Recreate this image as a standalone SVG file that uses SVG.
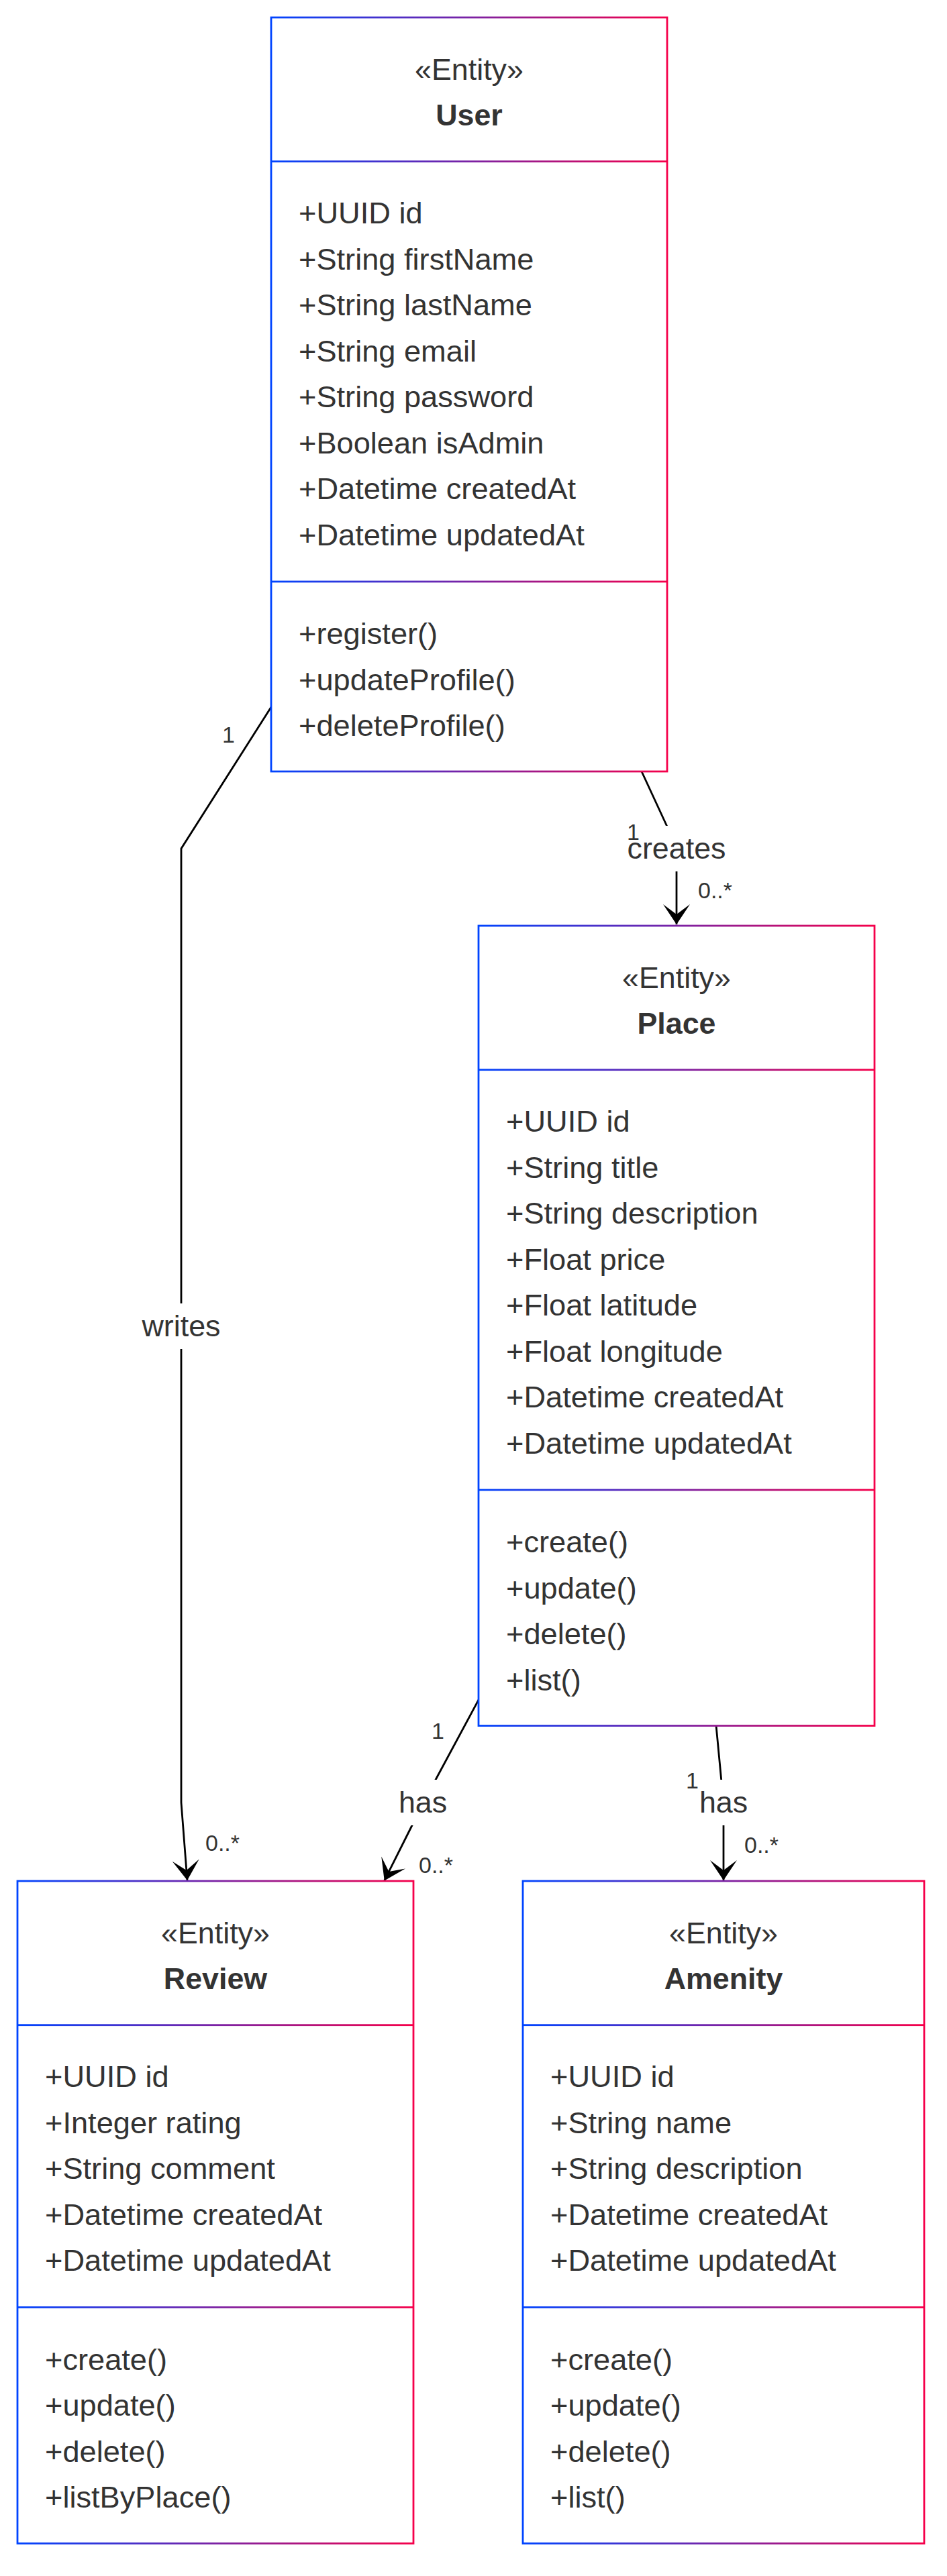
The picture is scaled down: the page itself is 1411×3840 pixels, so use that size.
<svg xmlns="http://www.w3.org/2000/svg" width="1411" height="3840" viewBox="0 0 1411 3840">
<style>
  text { font-family: "Liberation Sans", Arial, sans-serif; fill: #333333; }
  .stereo { font-size: 44.8px; text-anchor: middle; }
  .title { font-size: 44.8px; font-weight: bold; text-anchor: middle; }
  .member { font-size: 45.2px; }
  .elabel { font-size: 44.8px; text-anchor: middle; }
  .card { font-size: 34px; }
  .box { fill: #ffffff; stroke-width: 2.8; }
  .edge { fill: none; stroke: #000000; stroke-width: 2.8; marker-end: url(#arrow); }
  .lbg { fill: #ffffff; stroke: none; }
</style>
<defs>
  <linearGradient id="gUser" gradientUnits="userSpaceOnUse" x1="404" y1="0" x2="994" y2="0"><stop offset="0" stop-color="#0044ff"/><stop offset="1" stop-color="#f5004a"/></linearGradient>
  <linearGradient id="gPlace" gradientUnits="userSpaceOnUse" x1="713" y1="0" x2="1303" y2="0"><stop offset="0" stop-color="#0044ff"/><stop offset="1" stop-color="#f5004a"/></linearGradient>
  <linearGradient id="gReview" gradientUnits="userSpaceOnUse" x1="26" y1="0" x2="616" y2="0"><stop offset="0" stop-color="#0044ff"/><stop offset="1" stop-color="#f5004a"/></linearGradient>
  <linearGradient id="gAmenity" gradientUnits="userSpaceOnUse" x1="779" y1="0" x2="1377" y2="0"><stop offset="0" stop-color="#0044ff"/><stop offset="1" stop-color="#f5004a"/></linearGradient>
  <marker id="arrow" viewBox="-32 -22 34 44" refX="0" refY="0" markerWidth="34" markerHeight="44" markerUnits="userSpaceOnUse" orient="auto">
    <path d="M0,0 L-30,-20 L-15,0 L-30,20 Z" fill="#000000"/>
  </marker>
</defs>
<rect x="0" y="0" width="1411" height="3840" fill="#ffffff"/>

<g id="connectors">
  <g id="edge-writes">
    <path class="edge" d="M404,1054 L270,1265 L270,2687 L279,2803"/>
    <rect class="lbg" x="212" y="1943" width="116" height="68"/>
    <text class="elabel" x="270" y="1992">writes</text>
    <text class="card" x="331" y="1107">1</text>
    <text class="card" x="306" y="2759">0..*</text>
  </g>
  <g id="edge-creates">
    <path class="edge" d="M956,1150 L993,1230 L1008,1262 L1008,1378"/>
    <rect class="lbg" x="936" y="1231" width="145" height="68"/>
    <text class="elabel" x="1008" y="1280">creates</text>
    <text class="card" x="934" y="1252">1</text>
    <text class="card" x="1040" y="1339">0..*</text>
  </g>
  <g id="edge-has-review">
    <path class="edge" d="M713,2534 L648.5,2654 L613,2723 L572.7,2803.4"/>
    <rect class="lbg" x="594" y="2653" width="72" height="68"/>
    <text class="elabel" x="630" y="2702">has</text>
    <text class="card" x="643" y="2592">1</text>
    <text class="card" x="624" y="2792">0..*</text>
  </g>
  <g id="edge-has-amenity">
    <path class="edge" d="M1067,2572 L1074.8,2654 L1078,2690 L1078,2803"/>
    <rect class="lbg" x="1042" y="2653" width="72" height="68"/>
    <text class="elabel" x="1078" y="2702">has</text>
    <text class="card" x="1022" y="2666">1</text>
    <text class="card" x="1109" y="2762">0..*</text>
  </g>
</g>

<g id="node-user">
  <rect class="box" x="404" y="26" width="590" height="1124" stroke="url(#gUser)"/>
  <rect x="404" y="239.3" width="590" height="2.8" fill="url(#gUser)"/>
  <rect x="404" y="865.6" width="590" height="2.8" fill="url(#gUser)"/>
  <text class="stereo" x="699" y="119.3">«Entity»</text>
  <text class="title" x="699" y="187">User</text>
  <text class="member" x="445" y="333">+UUID id</text>
  <text class="member" x="445" y="401.5">+String firstName</text>
  <text class="member" x="445" y="470">+String lastName</text>
  <text class="member" x="445" y="538.5">+String email</text>
  <text class="member" x="445" y="607">+String password</text>
  <text class="member" x="445" y="675.5">+Boolean isAdmin</text>
  <text class="member" x="445" y="744">+Datetime createdAt</text>
  <text class="member" x="445" y="812.5">+Datetime updatedAt</text>
  <text class="member" x="445" y="960">+register()</text>
  <text class="member" x="445" y="1028.5">+updateProfile()</text>
  <text class="member" x="445" y="1097">+deleteProfile()</text>
</g>

<g id="node-place">
  <rect class="box" x="713" y="1380" width="590" height="1192.5" stroke="url(#gPlace)"/>
  <rect x="713" y="1593.3" width="590" height="2.8" fill="url(#gPlace)"/>
  <rect x="713" y="2219.6" width="590" height="2.8" fill="url(#gPlace)"/>
  <text class="stereo" x="1008" y="1473.3">«Entity»</text>
  <text class="title" x="1008" y="1541">Place</text>
  <text class="member" x="754" y="1687">+UUID id</text>
  <text class="member" x="754" y="1755.5">+String title</text>
  <text class="member" x="754" y="1824">+String description</text>
  <text class="member" x="754" y="1892.5">+Float price</text>
  <text class="member" x="754" y="1961">+Float latitude</text>
  <text class="member" x="754" y="2029.5">+Float longitude</text>
  <text class="member" x="754" y="2098">+Datetime createdAt</text>
  <text class="member" x="754" y="2166.5">+Datetime updatedAt</text>
  <text class="member" x="754" y="2314">+create()</text>
  <text class="member" x="754" y="2382.5">+update()</text>
  <text class="member" x="754" y="2451">+delete()</text>
  <text class="member" x="754" y="2519.5">+list()</text>
</g>

<g id="node-review">
  <rect class="box" x="26" y="2804" width="590" height="987.5" stroke="url(#gReview)"/>
  <rect x="26" y="3017.3" width="590" height="2.8" fill="url(#gReview)"/>
  <rect x="26" y="3438.1" width="590" height="2.8" fill="url(#gReview)"/>
  <text class="stereo" x="321" y="2897.3">«Entity»</text>
  <text class="title" x="321" y="2965">Review</text>
  <text class="member" x="67" y="3111">+UUID id</text>
  <text class="member" x="67" y="3179.5">+Integer rating</text>
  <text class="member" x="67" y="3248">+String comment</text>
  <text class="member" x="67" y="3316.5">+Datetime createdAt</text>
  <text class="member" x="67" y="3385">+Datetime updatedAt</text>
  <text class="member" x="67" y="3532.5">+create()</text>
  <text class="member" x="67" y="3601">+update()</text>
  <text class="member" x="67" y="3669.5">+delete()</text>
  <text class="member" x="67" y="3738">+listByPlace()</text>
</g>

<g id="node-amenity">
  <rect class="box" x="779" y="2804" width="598" height="987.5" stroke="url(#gAmenity)"/>
  <rect x="779" y="3017.3" width="598" height="2.8" fill="url(#gAmenity)"/>
  <rect x="779" y="3438.1" width="598" height="2.8" fill="url(#gAmenity)"/>
  <text class="stereo" x="1078" y="2897.3">«Entity»</text>
  <text class="title" x="1078" y="2965">Amenity</text>
  <text class="member" x="820" y="3111">+UUID id</text>
  <text class="member" x="820" y="3179.5">+String name</text>
  <text class="member" x="820" y="3248">+String description</text>
  <text class="member" x="820" y="3316.5">+Datetime createdAt</text>
  <text class="member" x="820" y="3385">+Datetime updatedAt</text>
  <text class="member" x="820" y="3532.5">+create()</text>
  <text class="member" x="820" y="3601">+update()</text>
  <text class="member" x="820" y="3669.5">+delete()</text>
  <text class="member" x="820" y="3738">+list()</text>
</g>
</svg>
